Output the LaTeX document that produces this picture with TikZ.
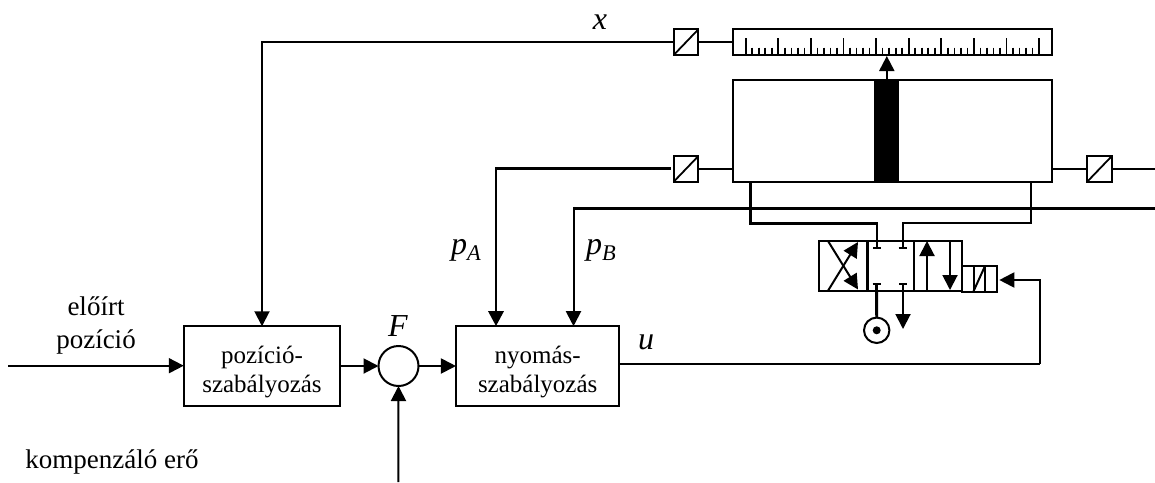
\documentclass[tikz,border=0pt]{standalone}
\usepackage{fontspec}
\setmainfont{Liberation Serif}
\usetikzlibrary{arrows.meta,calc}
\tikzset{
  wire/.style={line width=2pt,draw=black},
  thickwire/.style={line width=2.9pt,draw=black},
  tipped/.style={-{Triangle[length=15pt,width=15pt]}},
  blockbox/.style={draw=black,line width=2pt,fill=white,inner sep=0pt,outer sep=0pt,align=center,font=\fontsize{25}{29}\selectfont},
  sensorbox/.style={draw=black,line width=2pt,fill=white,inner sep=0pt,outer sep=0pt,minimum width=24.5pt,minimum height=25.5pt,
     path picture={\draw[line width=1.8pt] (path picture bounding box.south west) -- (path picture bounding box.north east);}},
  label/.style={inner sep=0pt,font=\fontsize{27}{28}\selectfont,align=center},
  mathlabel/.style={inner sep=0pt,font=\fontsize{32}{32}\selectfont\itshape},
  stopbar/.style={line width=1.8pt}
}
\begin{document}
\begin{tikzpicture}[x=1pt,y=-1pt]
\useasboundingbox (0,0) rectangle (1155,482);
% blocks
\node[blockbox,minimum width=156.5pt,minimum height=79.5pt] (pos) at (262,366) {\rule{0pt}{30pt}pozíció-\\szabályozás};
\node[blockbox,minimum width=163.5pt,minimum height=79.5pt] (pres) at (537.7,366) {\rule{0pt}{30pt}nyomás-\\szabályozás};
\node[draw=black,line width=2pt,circle,inner sep=0pt,outer sep=0pt,minimum size=40pt] (sum) at (398.5,366) {};
% sensors
\node[sensorbox] (sx) at (686,42.2) {};
\node[sensorbox] (sa) at (686,168.9) {};
\node[sensorbox] (sb) at (1099.5,168.9) {};
% scale
\node[draw=black,line width=2pt,inner sep=0pt,outer sep=0pt,minimum width=319.5pt,minimum height=25.5pt] (scale) at (892.3,42.2) {};
\foreach \i in {0,...,9}{\draw[line width=1.8pt] ({745.7+32.6*\i},38.3) -- ({745.7+32.6*\i},55);}
\foreach \i in {0,...,44}{\draw[line width=1.7pt] ({745.7+6.52*\i},47.7) -- ({745.7+6.52*\i},55);}
% cylinder
\node[draw=black,line width=2pt,inner sep=0pt,outer sep=0pt,minimum width=319.5pt,minimum height=101.7pt] (cyl) at (892.3,130.8) {};
\node[fill=black,inner sep=0pt,outer sep=0pt,minimum width=25pt,minimum height=102.7pt] (piston) at (886.8,130.8) {};
% valve
\node[draw=black,line width=2pt,inner sep=0pt,outer sep=0pt,minimum width=142.7pt,minimum height=50pt] (valve) at (890.3,265.7) {};
\draw[line width=2.4pt] (867.3,240.7) -- (867.3,290.7);
\draw[wire] (914,240.7) -- (914,290.7);
\node[draw=black,line width=2pt,inner sep=0pt,outer sep=0pt,minimum width=35.3pt,minimum height=25.7pt] (sol) at (979.4,278.85) {};
\draw[wire] (974,266) -- (974,291.7);
\draw[wire] (985,266) -- (985,291.7);
\draw[wire] (973.3,291.7) -- (985,266);
% valve arrows
\draw[wire,tipped] (828,290.7) -- (858,242);
\draw[wire,tipped] (828,241) -- (858,289.5);
\draw[wire,tipped] (927,290.7) -- (927,241);
\draw[wire,tipped] (950,241) -- (950,290);
% stops
\coordinate (pl) at (877,248);
\coordinate (pr) at (902.7,248);
\coordinate (tl) at (876.5,284.3);
\coordinate (tr) at (903,284.3);
\draw[stopbar] (873,248) -- (881,248);
\draw[stopbar] (898.7,248) -- (906.7,248);
\draw[stopbar] (872.5,284.3) -- (880.5,284.3);
\draw[stopbar] (899,284.3) -- (907,284.3);
% pump
\node[draw=black,line width=2pt,circle,inner sep=0pt,outer sep=0pt,minimum size=25.4pt] (pump) at (876.7,330.3) {};
\node[fill=black,circle,inner sep=0pt,minimum size=8pt] (pumpdot) at (876.7,330.3) {};
\draw[thickwire] (tl) -- (pump.north);
\draw[wire,tipped] (tr) -- (903,329);
% cylinder ports to valve
\coordinate (cl) at (750.5,181.7);
\coordinate (cr) at (1031,181.7);
\draw[line width=2.4pt] (cl) -- (750.5,223.3) -| (pl);
\draw[wire] (cr) -- (1031,222.7) -| (pr);
% gauge arrow
\draw[wire,tipped] (piston.north) -- (886.8,56);
% sensor connections
\draw[wire] (sx.east) -- (scale.west);
\draw[wire] (sa.east) -- (sa.east -| cyl.west);
\draw[wire] (sb.west) -- (sb.west -| cyl.east);
\draw[wire] (sb.east) -- (1155,168.9);
% feedback lines
\draw[wire,tipped] (sx.west) -| (pos.north);
\draw[thickwire,tipped] ([xshift=-3pt]sa.west) -| (496,326.2);
\coordinate (pbstart) at (1155,208.3);
\draw[thickwire] (pbstart) -- (575,208.3);
\draw[wire,tipped] (573.5,206.9) -- (573.5,326.2);
% main signal
\coordinate (in) at (8.4,365.7);
\coordinate (comp) at (398.4,482);
\coordinate (uturn) at (1040.3,363.7);
\draw[wire,tipped] (in) -- (pos.west |- in);
\draw[wire,tipped] (pos.east) -- (sum.west);
\draw[wire,tipped] (sum.east) -- (pres.west);
\draw[wire,tipped] (comp) -- (sum.south);
\draw[wire] (pres.east |- uturn) -- (uturn);
\draw[wire,tipped] (uturn) -- (1040.3,280) -- (999.3,280);
% labels
\node[label] (t1) at (96,306) {előírt};
\node[label] (t2) at (96,342) {pozíció};
\node[label] (t3) at (112,462) {kompenzáló erő};
\node[mathlabel] (lx) at (600,22) {x};
\node[mathlabel] (lf) at (398,326) {F};
\node[mathlabel] (lu) at (646,342) {u};
\node[mathlabel,anchor=base west] (lpa) at (451,254) {p\textsubscript{A}};
\node[mathlabel,anchor=base west] (lpb) at (586,254) {p\textsubscript{B}};
\end{tikzpicture}
\end{document}
